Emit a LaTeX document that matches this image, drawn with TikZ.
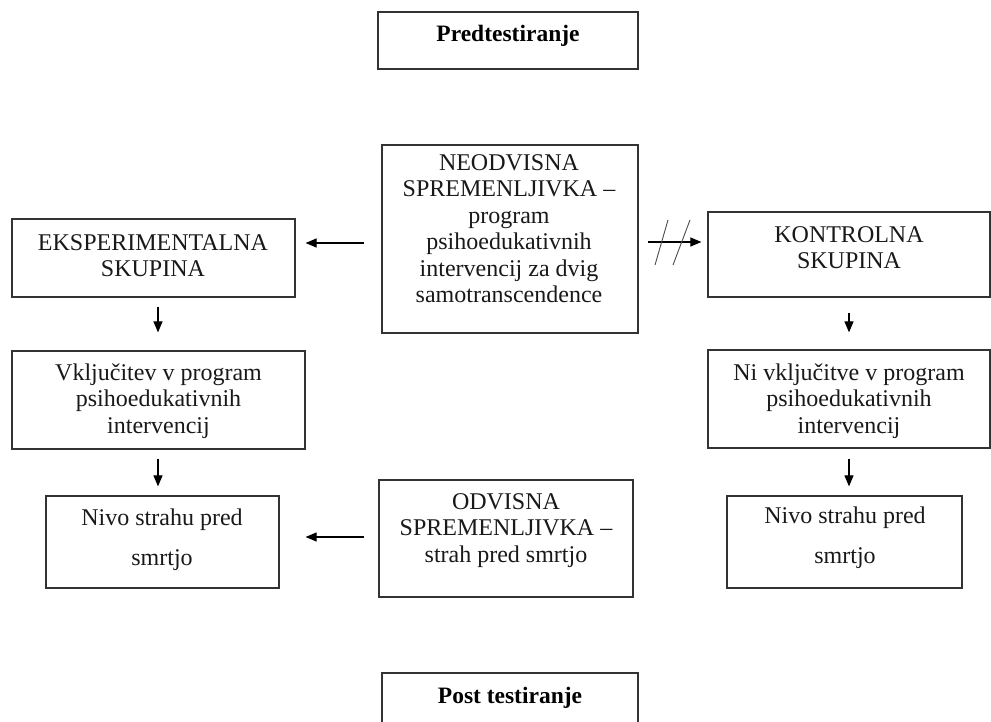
\documentclass[tikz,border=0pt]{standalone}
\usepackage{fontspec}
\setmainfont{Liberation Serif}
\usetikzlibrary{arrows.meta}
\tikzset{
  box/.style={draw=black!80, line width=1.2pt, rectangle, inner sep=0pt},
  txt/.style={inner sep=0pt, align=center, anchor=north, text=black!90,
    font=\fontsize{24}{26.5}\selectfont},
  wide/.style={font=\fontsize{24}{40}\selectfont},
  ttl/.style={inner sep=0pt, anchor=base, text=black,
    font=\fontsize{23.5}{26}\selectfont\bfseries},
  arr/.style={draw=black, line width=1.1pt, -{Triangle[length=11pt,width=9pt]}},
  slash/.style={draw=black!70, line width=0.9pt}
}
\begin{document}
\begin{tikzpicture}[x=1pt, y=-1pt]
\useasboundingbox (0,0) rectangle (991,722);
\clip (0,0) rectangle (991,722);
\fill[white] (0,0) rectangle (991,722);

% boxes
\node[box, minimum width=260pt, minimum height=57pt] (pre) at (508,40.5) {};
\node[box, minimum width=256pt, minimum height=188pt] (neo) at (510,239) {};
\node[box, minimum width=283pt, minimum height=78pt] (eksp) at (153.5,258) {};
\node[box, minimum width=293pt, minimum height=98pt] (vklj) at (158.5,400) {};
\node[box, minimum width=233pt, minimum height=92pt] (nivoL) at (162.5,542) {};
\node[box, minimum width=254pt, minimum height=117pt] (odv) at (506,538.5) {};
\node[box, minimum width=282pt, minimum height=85pt] (kon) at (849,254.5) {};
\node[box, minimum width=282pt, minimum height=98pt] (ni) at (849,399) {};
\node[box, minimum width=235pt, minimum height=92pt] (nivoR) at (844.5,542) {};
\node[box, minimum width=256pt, minimum height=90pt] (post) at (510,718) {};

% texts
\node[ttl] (tpre) at (508,42) {Predtestiranje};
\node[ttl] (tpost) at (510,703) {Post testiranje};
\node[txt] (tneo) at (509,151.45) {\strut NEODVISNA\\\strut SPREMENLJIVKA –\\\strut program\\\strut psihoedukativnih\\\strut intervencij za dvig\\\strut samotranscendence};
\node[txt] (teksp) at (153,231.45) {\strut EKSPERIMENTALNA\\\strut SKUPINA};
\node[txt] (tvklj) at (158.5,361.45) {\strut Vključitev v program\\\strut psihoedukativnih\\\strut intervencij};
\node[txt, wide] (tnivoL) at (162,497) {\strut Nivo strahu pred\\\strut smrtjo};
\node[txt] (todv) at (506,490.45) {\strut ODVISNA\\\strut SPREMENLJIVKA –\\\strut strah pred smrtjo};
\node[txt] (tkon) at (849,223.45) {\strut KONTROLNA\\\strut SKUPINA};
\node[txt] (tni) at (849,361.45) {\strut Ni vključitve v program\\\strut psihoedukativnih\\\strut intervencij};
\node[txt, wide] (tnivoR) at (845,495.5) {\strut Nivo strahu pred\\\strut smrtjo};

% helper coordinates for arrow lines
\coordinate (yA) at (0,243);
\coordinate (yB) at (0,242);
\coordinate (yC) at (0,537);
\coordinate (xL) at (158,0);
\coordinate (xR) at (849,0);

% connectors
\draw[arr, shorten <=17pt, shorten >=10pt] (neo.west |- yA) -- (eksp.east |- yA);
\draw[arr, shorten <=9pt, shorten >=6pt] (neo.east |- yB) -- (kon.west |- yB);
\draw[arr, shorten <=9pt, shorten >=18pt] (eksp.south -| xL) -- (vklj.north -| xL);
\draw[arr, shorten <=9pt, shorten >=9pt] (vklj.south -| xL) -- (nivoL.north -| xL);
\draw[arr, shorten <=14pt, shorten >=26pt] (odv.west |- yC) -- (nivoL.east |- yC);
\draw[arr, shorten <=15pt, shorten >=17pt] (kon.south -| xR) -- (ni.north -| xR);
\draw[arr, shorten <=10pt, shorten >=9pt] (ni.south -| xR) -- (nivoR.north -| xR);

% double slash on the control arrow
\coordinate (s1a) at (655,265); \coordinate (s1b) at (668,220);
\coordinate (s2a) at (673,265); \coordinate (s2b) at (690,220);
\draw[slash] (s1a) -- (s1b);
\draw[slash] (s2a) -- (s2b);
\end{tikzpicture}
\end{document}
